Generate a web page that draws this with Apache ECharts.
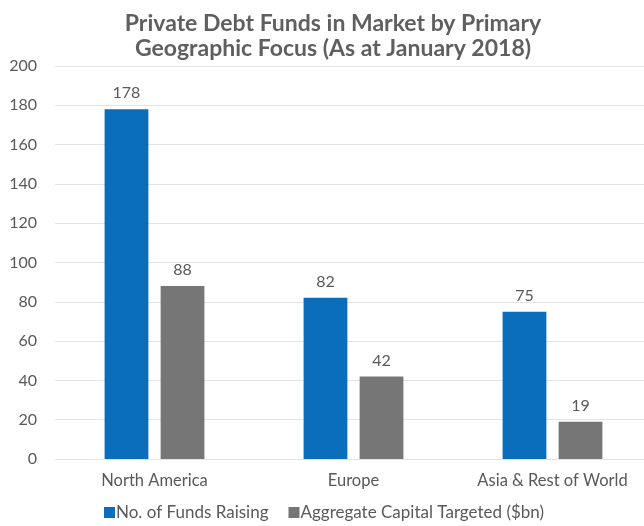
<!DOCTYPE html>
<html>
<head>
<meta charset="utf-8">
<script src="https://cdn.jsdelivr.net/npm/echarts@6/dist/echarts.min.js"></script>
<style>
  html, body { margin: 0; padding: 0; background: #fff; }
  #chart { width: 644px; height: 526px; }
</style>
</head>
<body>
<div id="chart"></div>
<script>
const regions = ['North America', 'Europe', 'Asia & Rest of World']
const fundsRaising = [178, 82, 75]
const capitalTargeted = [88, 42, 19]
const yTicks = { min: 0, max: 200, interval: 20 }

const textColor = '#595959'
const font = 'Lato, "Open Sans", sans-serif'

const chart = echarts.init(document.getElementById('chart'), null, { renderer: 'canvas' })

chart.setOption({
  animation: false,
  textStyle: { fontFamily: font },
  title: {
    text: 'Private Debt Funds in Market by Primary\nGeographic Focus (As at January 2018)',
    left: 328, top: 6, textAlign: 'center',
    textStyle: { fontSize: 23, fontWeight: 'bold', color: '#5f5f5f', lineHeight: 25, fontFamily: font }
  },
  legend: {
    bottom: 0, left: 99,
    itemWidth: 11, itemHeight: 11, itemGap: 20,
    icon: 'rect',
    textStyle: { fontSize: 17, color: textColor, fontFamily: font, padding: [0, 0, 0, -4] },
    data: ['No. of Funds Raising', 'Aggregate Capital Targeted ($bn)']
  },
  grid: { left: 55, width: 597, top: 66, bottom: 67, containLabel: false, outerBoundsMode: 'none' },
  xAxis: {
    type: 'category', data: regions,
    axisLine: { show: false }, axisTick: { show: false },
    axisLabel: { interval: 0, fontSize: 16.5, color: textColor, margin: 13, fontFamily: font }
  },
  yAxis: {
    type: 'value', min: yTicks.min, max: yTicks.max, interval: yTicks.interval,
    axisLine: { show: false }, axisTick: { show: false },
    axisLabel: { fontSize: 16, color: textColor, margin: 18, fontFamily: font },
    splitLine: { lineStyle: { color: '#e3e3e3', width: 1 } }
  },
  series: [
    {
      name: 'No. of Funds Raising', type: 'bar', data: fundsRaising,
      barWidth: '22%', barGap: '28%',
      itemStyle: { color: '#0a6ebd' },
      label: { show: true, position: 'top', distance: 8, fontSize: 16, color: textColor, fontFamily: font }
    },
    {
      name: 'Aggregate Capital Targeted ($bn)', type: 'bar', data: capitalTargeted,
      barWidth: '22%',
      itemStyle: { color: '#767676' },
      label: { show: true, position: 'top', distance: 8, fontSize: 16, color: textColor, fontFamily: font }
    }
  ]
})
</script>
</body>
</html>
